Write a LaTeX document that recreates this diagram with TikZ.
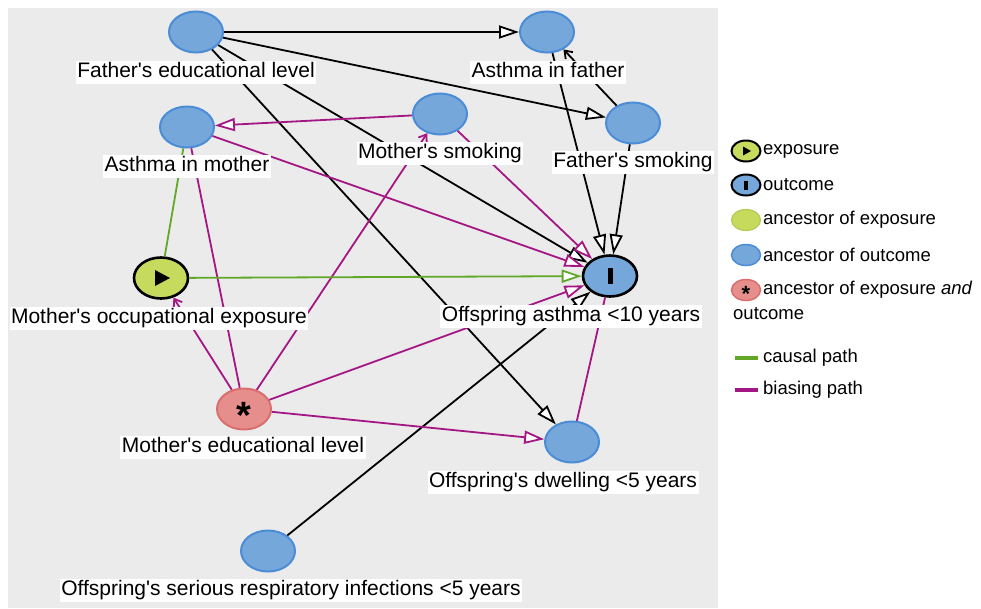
\documentclass[tikz,border=0pt]{standalone}
\usepackage{fontspec}
\setmainfont{Liberation Sans}
\usetikzlibrary{shapes.geometric}
\usetikzlibrary{arrows.meta}
\definecolor{dagbg}{RGB}{235,235,235}
\definecolor{expfill}{RGB}{198,219,94}
\definecolor{outfill}{RGB}{118,167,218}
\definecolor{outline}{RGB}{74,140,214}
\definecolor{bothfill}{RGB}{230,142,140}
\definecolor{bothline}{RGB}{218,110,110}
\definecolor{causalcol}{RGB}{98,168,40}
\definecolor{biascol}{RGB}{164,22,132}
\tikzset{
    anc/.style={ellipse, minimum width=54pt, minimum height=41pt, inner sep=0pt},
    ancout/.style={anc, draw=outline, fill=outfill, line width=2pt},
    ancexp/.style={anc, draw=expfill!92!black, fill=expfill, line width=1.2pt},
    ancboth/.style={anc, draw=bothline, fill=bothfill, line width=2pt},
    expo/.style={anc, draw=black, fill=expfill, line width=2.6pt},
    outc/.style={anc, draw=black, fill=outfill, line width=2.6pt},
    legicon/.style={minimum width=29pt, minimum height=21pt},
    lbl/.style={fill=white, inner sep=1.5pt, text height=15.5pt, text depth=4.5pt,
        font=\fontsize{21}{25}\selectfont},
    legtxt/.style={anchor=west, inner sep=0pt, font=\fontsize{18.5}{22}\selectfont},
    bighead/.style={-{Triangle[length=20pt, width=13pt, fill=white]}},
    smallhead/.style={-{Straight Barb[length=7pt, width=10pt]}},
    ordinary/.style={draw=black, line width=1.8pt},
    causal/.style={draw=causalcol, line width=1.8pt},
    biasing/.style={draw=biascol, line width=1.8pt},
}

\begin{document}
\begin{tikzpicture}[x=1pt, y=-1pt]
	\useasboundingbox (0,0) rectangle (981,608);
	\fill[dagbg] (8,8) rectangle (718,608);

	% variables
	\node[ancout] (fedu) at (196,32) {};
	\node[ancout] (af) at (547,32) {};
	\node[ancout] (am) at (187,127) {};
	\node[ancout] (ms) at (440,114) {};
	\node[ancout] (fs) at (633,123) {};
	\node[expo] (moe) at (161,278) {};
	\node[outc] (oa) at (610,276) {};
	\node[ancboth] (medu) at (244,409) {\fontsize{38}{38}\selectfont\bfseries\smash{\raisebox{-0.5em}{*}}};
	\node[ancout] (od) at (572,442) {};
	\node[ancout] (oi) at (268,551) {};
	\fill ([shift={(-6,-8)}]moe.center) -- ([shift={(9,0)}]moe.center) -- ([shift={(-6,8)}]moe.center) -- cycle;
	\fill ([shift={(-2.5,-8)}]oa.center) rectangle ([shift={(2.5,8)}]oa.center);

	% arrows
	\draw[ordinary, bighead] (fedu) -- (af);
	\draw[ordinary, bighead] (fedu) -- (fs);
	\draw[ordinary, bighead] (fedu) -- (oa);
	\draw[ordinary, bighead] (fedu) -- (od);
	\draw[ordinary, bighead] (af) -- (oa);
	\draw[ordinary, bighead] (fs) -- (oa);
	\draw[ordinary, smallhead] (fs) -- (af);
	\draw[ordinary, bighead] (oi) -- (oa);
	\draw[biasing, bighead] (ms) -- (am);
	\draw[biasing, bighead] (ms) -- (oa);
	\draw[biasing, bighead] (am) -- (oa);
	\draw[biasing, bighead] (medu) -- (oa);
	\draw[biasing, bighead] (medu) -- (od);
	\draw[biasing, smallhead] (medu) -- (ms);
	\draw[biasing, smallhead] (medu) -- (moe);
	\draw[biasing] (medu) -- (am);
	\draw[biasing] (od) -- (oa);
	\draw[causal, bighead] (moe) -- (oa);
	\draw[causal] (moe) -- (am);

	% labels
	\node[lbl] (fedu-l) at (196,72) {Father\textquotesingle s educational level};
	\node[lbl] (af-l) at (548,72) {Asthma in father};
	\node[lbl] (am-l) at (187,166) {Asthma in mother};
	\node[lbl] (ms-l) at (440,153) {Mother\textquotesingle s smoking};
	\node[lbl] (fs-l) at (633,162) {Father\textquotesingle s smoking};
	\node[lbl] (moe-l) at (159,318) {Mother\textquotesingle s occupational exposure};
	\node[lbl] (oa-l) at (571,316) {Offspring asthma <10 years};
	\node[lbl] (medu-l) at (243,447) {Mother\textquotesingle s educational level};
	\node[lbl] (od-l) at (563,482) {Offspring\textquotesingle s dwelling <5 years};
	\node[lbl] (oi-l) at (291,590) {Offspring\textquotesingle s serious respiratory infections <5 years};

	% legend
	\node[expo, legicon, line width=2pt] (lexp) at (746,151) {};
	\node[outc, legicon, line width=2pt] (lout) at (746,185) {};
	\node[ancexp, legicon] (lancexp) at (746,220) {};
	\node[ancout, legicon, line width=1.5pt] (lancout) at (746,255) {};
	\node[ancboth, legicon, line width=1.5pt] (lboth) at (746,290) {\fontsize{22}{22}\selectfont\bfseries\smash{\raisebox{-0.5em}{*}}};
	\fill ([shift={(-3,-4.5)}]lexp.center) -- ([shift={(5,0)}]lexp.center) -- ([shift={(-3,4.5)}]lexp.center) -- cycle;
	\fill ([shift={(-1.6,-4.5)}]lout.center) rectangle ([shift={(1.6,4.5)}]lout.center);
	\node[legtxt] (lexp-t) at (763,151) {exposure};
	\node[legtxt] (lout-t) at (763,185) {outcome};
	\node[legtxt] (lancexp-t) at (763,220) {ancestor of exposure};
	\node[legtxt] (lancout-t) at (763,255) {ancestor of outcome};
	\node[legtxt] (lboth-t) at (763,290) {ancestor of exposure \textit{and}};
	\node[legtxt] (lboth-t2) at (733,314) {outcome};
	\draw[causalcol, line width=4pt] (735,358) -- (758,358);
	\node[legtxt] (lcausal-t) at (763,358) {causal path};
	\draw[biascol, line width=4pt] (735,390) -- (758,390);
	\node[legtxt] (lbias-t) at (763,390) {biasing path};
\end{tikzpicture}
\end{document}
